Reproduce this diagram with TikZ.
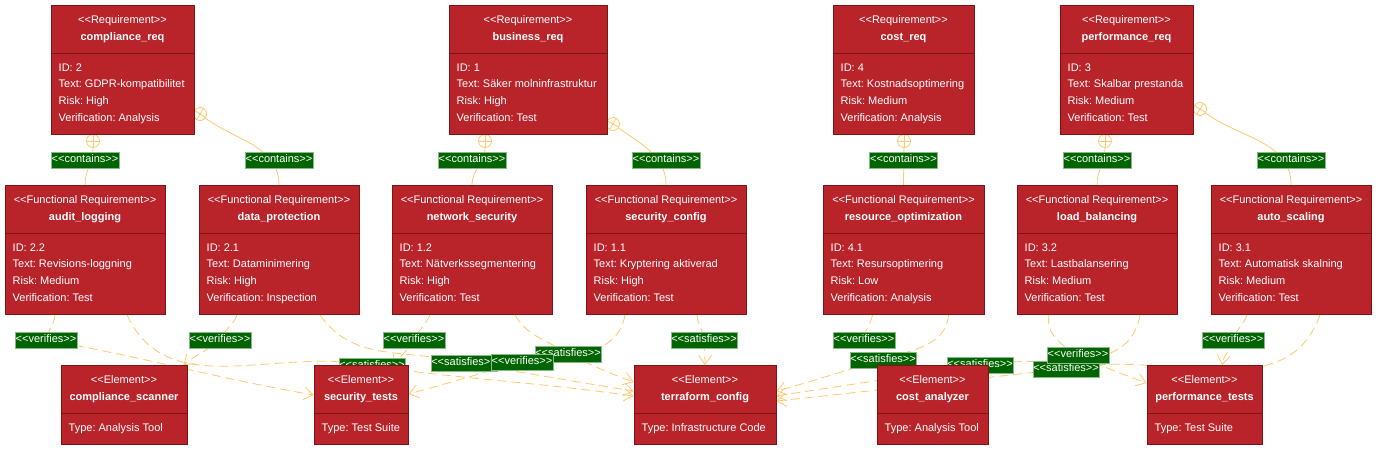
\documentclass[tikz,border=0pt]{standalone}
\usepackage{fontspec}
\setmainfont{Liberation Sans}[Ligatures=TeXOff]
\usetikzlibrary{arrows.meta}
\frenchspacing

\definecolor{boxred}{RGB}{184,36,42}
\definecolor{boxedge}{RGB}{128,20,20}
\definecolor{edgecol}{RGB}{252,201,110}
\definecolor{labelgreen}{RGB}{0,100,0}

\pgfdeclarelayer{front}
\pgfsetlayers{main,front}

\newcommand{\umlfont}{\fontsize{11}{13}\selectfont}
\newcommand{\stereo}[1]{\textless\textless#1\textgreater\textgreater}
% name, centre x, top y, width, height, stereotype, title, body lines
\newcommand{\umlbox}[8]{%
  \node[umlbox, minimum width=#4pt, minimum height=#5pt, anchor=north] (#1) at (#2,-#3) {};
  \draw[umldiv] ([yshift=-48pt]#1.north west) -- ([yshift=-48pt]#1.north east);
  \node[umltext, anchor=base] (#1-stereo) at ([yshift=-18pt]#1.north) {\stereo{#6}};
  \node[umltext, font=\umlfont\bfseries, anchor=base] (#1-title) at ([yshift=-35pt]#1.north) {#7};
  \foreach \txt [count=\i] in {#8}
    \node[umltext, anchor=base west] (#1-line\i) at ([xshift=8pt, yshift={-49.33pt-16.67pt*\i}]#1.north west) {\txt};
}

\begin{document}
\begin{tikzpicture}[x=1pt, y=1pt,
    umlbox/.style={draw=boxedge, fill=boxred, line width=1pt, inner sep=0pt},
    umldiv/.style={draw=boxedge, line width=1pt},
    umltext/.style={text=white, font=\umlfont, inner sep=0pt},
    relabel/.style={fill=labelgreen, draw=labelgreen!45!white, line width=0.4pt, text=white, font=\umlfont,
      inner xsep=0.5pt, inner ysep=3pt, text height=8pt, text depth=2.5pt},
    haslink/.style={draw=edgecol, line width=0.8pt},
    hasmark/.style={circle, draw=edgecol, line width=0.8pt, minimum size=13pt, inner sep=0pt},
    tracelink/.style={draw=edgecol, line width=0.8pt, dash pattern=on 9pt off 5pt,
      -{Straight Barb[length=9pt, width=13pt]}}]

  \useasboundingbox (0,0) rectangle (1384,-453);

  \begin{pgfonlayer}{front}
    % requirements
    \umlbox{compliance_req}{122.5}{5}{143}{129}{Requirement}{compliance\_req}{ID: 2, Text: GDPR-kompatibilitet, Risk: High, Verification: Analysis}
    \umlbox{business_req}{528}{5}{158}{129}{Requirement}{business\_req}{ID: 1, Text: Säker molninfrastruktur, Risk: High, Verification: Test}
    \umlbox{cost_req}{903.5}{5}{141}{129}{Requirement}{cost\_req}{ID: 4, Text: Kostnadsoptimering, Risk: Medium, Verification: Analysis}
    \umlbox{performance_req}{1126.5}{5}{133}{129}{Requirement}{performance\_req}{ID: 3, Text: Skalbar prestanda, Risk: Medium, Verification: Test}

    % functional requirements
    \umlbox{audit_logging}{85}{185}{160}{129}{Functional Requirement}{audit\_logging}{ID: 2.2, Text: Revisions-loggning, Risk: Medium, Verification: Test}
    \umlbox{data_protection}{279}{185}{160}{129}{Functional Requirement}{data\_protection}{ID: 2.1, Text: Dataminimering, Risk: High, Verification: Inspection}
    \umlbox{network_security}{472}{185}{160}{129}{Functional Requirement}{network\_security}{ID: 1.2, Text: Nätverkssegmentering, Risk: High, Verification: Test}
    \umlbox{security_config}{666}{185}{160}{129}{Functional Requirement}{security\_config}{ID: 1.1, Text: Kryptering aktiverad, Risk: High, Verification: Test}
    \umlbox{resource_optimization}{903.5}{185}{161}{129}{Functional Requirement}{resource\_optimization}{ID: 4.1, Text: Resursoptimering, Risk: Low, Verification: Analysis}
    \umlbox{load_balancing}{1097}{185}{160}{129}{Functional Requirement}{load\_balancing}{ID: 3.2, Text: Lastbalansering, Risk: Medium, Verification: Test}
    \umlbox{auto_scaling}{1291}{185}{160}{129}{Functional Requirement}{auto\_scaling}{ID: 3.1, Text: Automatisk skalning, Risk: Medium, Verification: Test}

    % elements
    \umlbox{compliance_scanner}{124}{365}{126}{79}{Element}{compliance\_scanner}{Type: Analysis Tool}
    \umlbox{security_tests}{361}{365}{94}{79}{Element}{security\_tests}{Type: Test Suite}
    \umlbox{terraform_config}{705}{365}{142}{79}{Element}{terraform\_config}{Type: Infrastructure Code}
    \umlbox{cost_analyzer}{932.5}{365}{111}{79}{Element}{cost\_analyzer}{Type: Analysis Tool}
    \umlbox{performance_tests}{1204.5}{365}{115}{79}{Element}{performance\_tests}{Type: Test Suite}
  \end{pgfonlayer}

  % contains
  \node[hasmark] (m-audit) at (93,-141) {};
  \node[hasmark, rotate=-32] (m-data) at (200,-114) {};
  \node[hasmark] (m-network) at (485,-141) {};
  \node[hasmark, rotate=-30] (m-config) at (613,-124) {};
  \node[hasmark] (m-resource) at (904,-141) {};
  \node[hasmark] (m-load) at (1105,-141) {};
  \node[hasmark, rotate=-32] (m-auto) at (1200,-109) {};
  \foreach \m in {m-audit, m-data, m-network, m-config, m-resource, m-load, m-auto}
    \draw[haslink] (\m.north) -- (\m.south) (\m.east) -- (\m.west);

  \draw[haslink] (m-audit) to[out=-90, in=90] (audit_logging.north);
  \draw[haslink] (m-data) to[out=-32, in=90] (data_protection.north);
  \draw[haslink] (m-network) to[out=-90, in=90] (network_security.north);
  \draw[haslink] (m-config) to[out=-30, in=90] (security_config.north);
  \draw[haslink] (m-resource) -- (resource_optimization.north);
  \draw[haslink] (m-load) to[out=-90, in=90] (load_balancing.north);
  \draw[haslink] (m-auto) to[out=-32, in=90] (auto_scaling.north);

  % verifies
  \coordinate (v1) at (46,-340);
  \coordinate (v2) at (220,-340);
  \coordinate (v3) at (414,-340);
  \coordinate (v4) at (522,-362);
  \coordinate (v5) at (864,-340);
  \coordinate (v6) at (1078,-355);
  \coordinate (v7) at (1233,-340);
  \draw[tracelink] ([xshift=-30pt]audit_logging.south) to[out=-95, in=80] (v1) to[out=-10, in=170] ([yshift=10pt]security_tests.west);
  \draw[tracelink] ([xshift=-42pt]data_protection.south) to[out=-110, in=70] (v2) to[out=-140, in=40] ([xshift=-4pt]compliance_scanner.north east);
  \draw[tracelink] ([xshift=-42pt]network_security.south) to[out=-115, in=65] (v3) to[out=-115, in=65] ([xshift=34pt]security_tests.north);
  \draw[tracelink] ([xshift=-41pt]security_config.south) to[out=-100, in=10] (v4) to[out=-165, in=15] ([yshift=11pt]security_tests.east);
  \draw[tracelink] ([xshift=-31pt]resource_optimization.south) to[out=-100, in=90] (v5) to[out=-70, in=110] ([xshift=-52pt]cost_analyzer.north);
  \draw[tracelink] ([xshift=-48pt]load_balancing.south) to[out=-100, in=150] (v6) to[out=-25, in=160] ([yshift=22pt]performance_tests.west);
  \draw[tracelink] ([xshift=-44pt]auto_scaling.south) to[out=-110, in=75] (v7) to[out=-105, in=80] ([xshift=17.5pt]performance_tests.north);

  % satisfies
  \coordinate (s1) at (372,-366);
  \coordinate (s2) at (464,-363);
  \coordinate (s3) at (568,-354);
  \coordinate (s4) at (704,-340);
  \coordinate (s5) at (883,-360);
  \coordinate (s6) at (980,-365);
  \coordinate (s7) at (1066,-369);
  \draw[tracelink] ([xshift=42pt]audit_logging.south) to[out=-65, in=168] (s1) to[out=-8, in=172] ([yshift=9pt]terraform_config.west);
  \draw[tracelink] ([xshift=41pt]data_protection.south) to[out=-55, in=165] (s2) to[out=-9, in=171] ([yshift=14pt]terraform_config.west);
  \draw[tracelink] ([xshift=43pt]network_security.south) to[out=-60, in=145] (s3) to[out=-25, in=160] ([yshift=23pt]terraform_config.west);
  \draw[tracelink] ([xshift=31pt]security_config.south) to[out=-85, in=95] (s4) to[out=-90, in=90] (terraform_config.north);
  \draw[tracelink] ([xshift=45pt]resource_optimization.south) to[out=-95, in=20] (s5) to[out=-165, in=15] ([yshift=14pt]terraform_config.east);
  \draw[tracelink] ([xshift=43pt]load_balancing.south) to[out=-100, in=10] (s6) to[out=-171, in=9] ([yshift=9pt]terraform_config.east);
  \draw[tracelink] ([xshift=29pt]auto_scaling.south) to[out=-110, in=12] (s7) to[out=-174, in=6] ([yshift=4pt]terraform_config.east);

  % labels
  \node[relabel] (c1-label) at (85,-160) {\stereo{contains}};
  \node[relabel] (c2-label) at (279,-160) {\stereo{contains}};
  \node[relabel] (c3-label) at (472,-160) {\stereo{contains}};
  \node[relabel] (c4-label) at (666,-160) {\stereo{contains}};
  \node[relabel] (c5-label) at (903.5,-160) {\stereo{contains}};
  \node[relabel] (c6-label) at (1097,-160) {\stereo{contains}};
  \node[relabel] (c7-label) at (1291,-160) {\stereo{contains}};
  \foreach \s in {s1, s2, s3, s4, s5, s6, s7}
    \node[relabel] (\s-label) at (\s) {\stereo{satisfies}};
  \foreach \v in {v1, v2, v3, v4, v5, v6, v7}
    \node[relabel] (\v-label) at (\v) {\stereo{verifies}};
\end{tikzpicture}
\end{document}
